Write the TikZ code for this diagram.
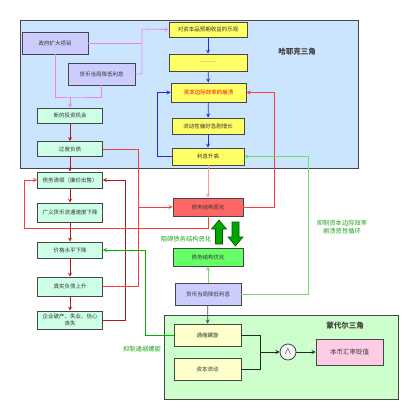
\documentclass[tikz,border=0pt]{standalone}
\usepackage{fontspec}
\setmainfont{Noto Sans CJK SC}
\usepackage{tikz}

\definecolor{hayekbg}{RGB}{204,229,255}
\definecolor{mundbg}{RGB}{204,255,204}
\definecolor{lilac}{RGB}{204,204,255}
\definecolor{mint}{RGB}{204,255,230}
\definecolor{lemon}{RGB}{255,255,102}
\definecolor{cream}{RGB}{255,255,204}
\definecolor{rosy}{RGB}{255,102,102}
\definecolor{lime}{RGB}{102,255,102}
\definecolor{blush}{RGB}{255,204,230}
\definecolor{vio}{RGB}{238,130,238}
\definecolor{dred}{RGB}{178,24,24}
\definecolor{lred}{RGB}{255,60,60}
\definecolor{pred}{RGB}{255,150,150}
\definecolor{lblue}{RGB}{40,40,235}
\definecolor{lgreen}{RGB}{110,220,110}
\definecolor{tgreen}{RGB}{30,160,30}

\begin{document}
\begin{tikzpicture}[x=1pt, y=-1pt,
        box/.style={rectangle, draw=gray!55!black, line width=0.8pt, inner sep=1pt, align=center,
            text=black!80, font=\fontsize{5.5}{6.5}\selectfont},
        purp/.style={box, fill=lilac, minimum width=66pt, minimum height=22pt},
        mnt/.style={box, fill=mint, minimum width=65pt, minimum height=16pt},
        yel/.style={box, fill=lemon, minimum width=74pt, minimum height=16pt},
        bad/.style={box, fill=rosy, minimum width=70pt, minimum height=18pt},
        good/.style={box, fill=lime, minimum width=70pt, minimum height=18pt},
        pale/.style={box, fill=cream, minimum width=67pt, minimum height=22pt},
        region/.style={draw=gray!55!black, line width=0.8pt},
        note/.style={text=tgreen, font=\fontsize{6.3}{7.5}\selectfont, align=center},
        title/.style={text=black!75, font=\fontsize{7.5}{9}\selectfont\bfseries},
        edge/.style={->, >=stealth, line width=0.8pt},
        bigarr/.style={fill=green!65!black, draw=green!35!black, line width=0.6pt}
    ]
        \useasboundingbox (0,0) rectangle (411,413);

        % Regions
        \draw[region, fill=hayekbg] (20,20) rectangle (358,168);
        \node[title] (hayek) at (297,52) {哈耶克三角};
        \draw[region, fill=mundbg] (164,315) rectangle (398,399);
        \node[title] (mundell) at (345,326) {蒙代尔三角};

        % Nodes
        \node[purp] (gov) at (55,43) {政府扩大项目};
        \node[purp, minimum width=67pt] (cut1) at (101.5,74) {货币当局降低利息};
        \node[mnt, minimum height=15pt] (invest) at (70,115.5) {新的投资机会};
        \node[mnt, minimum height=15pt] (debt) at (70,149) {过度负债};
        \node[mnt] (liquid) at (70,180) {债务清偿（廉价出售）};
        \node[mnt, minimum height=19pt] (velo) at (70,212.5) {广义货币流通速度下降};
        \node[mnt] (price) at (70,250) {价格水平下降};
        \node[mnt, minimum height=19pt] (real) at (70,286.5) {真实负债上升};
        \node[mnt, minimum height=18pt] (bankr) at (70,320) {企业破产、失业、信心\\丧失};

        \node[yel, minimum width=78pt, minimum height=15pt] (optim) at (208,29.5) {对资本品预期收益的乐观};
        \node[yel, minimum width=78pt, minimum height=17pt] (dots) at (208,62.5) {………};
        \node[yel, minimum width=75pt, minimum height=19pt, text=red] (collapse) at (208.5,92.5) {资本边际效率的崩溃};
        \node[yel, minimum width=72pt] (pref) at (208,126) {流动性偏好急剧增长};
        \node[yel, minimum width=72pt, minimum height=17pt] (rate) at (208,156.5) {利息升高};

        \node[bad] (worse) at (208,207) {债务结构恶化};
        \node[good] (better) at (208,257) {债务结构优化};
        \node[purp] (cut2) at (208,294) {货币当局降低利息};

        \node[pale] (spiral) at (207.5,335) {通缩螺旋};
        \node[pale] (flow) at (207.5,369) {资本流动};
        \node[circle, draw=gray!55!black, line width=0.8pt, fill=gray!8, minimum size=16pt, inner sep=0pt] (and) at (288,352) {$\wedge$};
        \node[box, fill=blush, minimum width=67pt, minimum height=26pt, font=\fontsize{6.5}{8}\selectfont] (depr) at (349.5,352) {本币汇率贬值};

        \node[note] (hinder) at (186,239) {阻碍债务结构恶化};
        \node[note] (curb) at (342,227) {抑制资本边际效率\\崩溃恶性循环};
        \node[note] (stop) at (142,349) {抑制通缩螺旋};

        \coordinate (jv) at (142,29);
        \coordinate (jp) at (70,97);
        \coordinate (jr) at (138,207);
        \coordinate (jm) at (260,352);

        % Edges
        \draw[edge, vio] (cut1.east) -| (jv) -- (optim.west);
        \draw[line width=0.8pt, vio] (gov.east) -- (gov.east -| jv);
        \draw[line width=0.8pt, vio] (gov.south) |- (jp) -| (cut1.south);
        \draw[edge, vio] (jp) -- (invest.north);

        \draw[edge, dred] (invest) -- (debt);
        \draw[edge, dred] (debt) -- (liquid);
        \draw[edge, dred] (liquid) -- (velo);
        \draw[edge, dred] (velo) -- (price);
        \draw[edge, dred] (price) -- (real);
        \draw[edge, dred] (real) -- (bankr);
        \draw[edge, dred] (bankr.east) -- ++(22,0) |- (liquid.east);

        \draw[edge, lred] (debt.east) -| (jr) -- (worse.west);
        \draw[line width=0.8pt, lred] (real.east) -| (jr);
        \draw[edge, lred] (worse.south) |- (24,228) |- (liquid.west);
        \draw[edge, lred] (worse.east) -- ++(31,0) |- (collapse.east);
        \draw[edge, pred] (rate) -- (worse);

        \draw[edge, lblue] (optim) -- (dots);
        \draw[edge, lblue] (dots) -- (collapse);
        \draw[edge, lblue] (collapse) -- (pref);
        \draw[edge, lblue] (pref) -- (rate);
        \draw[edge, lblue] (rate.west) -- ++(-14,0) |- (collapse.west);

        \draw[edge, lgreen] (cut2.east) -- ++(67,0) |- (rate.east);
        \draw[edge, lgreen] (cut2) -- (better);
        \draw[edge, gray!60!black] (cut2) -- (spiral);
        \draw[edge, green!70!black] (spiral.west) -- ++(-28,0) |- (price.east);

        \draw[line width=0.8pt, gray!30!black] (spiral.east) -| (jm);
        \draw[line width=0.8pt, gray!30!black] (flow.east) -| (jm);
        \draw[edge, gray!30!black] (jm) -- (and.west);
        \draw[edge, gray!30!black] (and.east) -- (depr.west);

        % Big arrows
        \draw[bigarr] (219,220) -- (226.5,229) -- (222.5,229) -- (222.5,244) -- (215.5,244)
            -- (215.5,229) -- (211.5,229) -- cycle;
        \draw[bigarr] (235.5,246) -- (243,237) -- (239,237) -- (239,222) -- (232,222)
            -- (232,237) -- (228,237) -- cycle;

    \end{tikzpicture}
\end{document}
